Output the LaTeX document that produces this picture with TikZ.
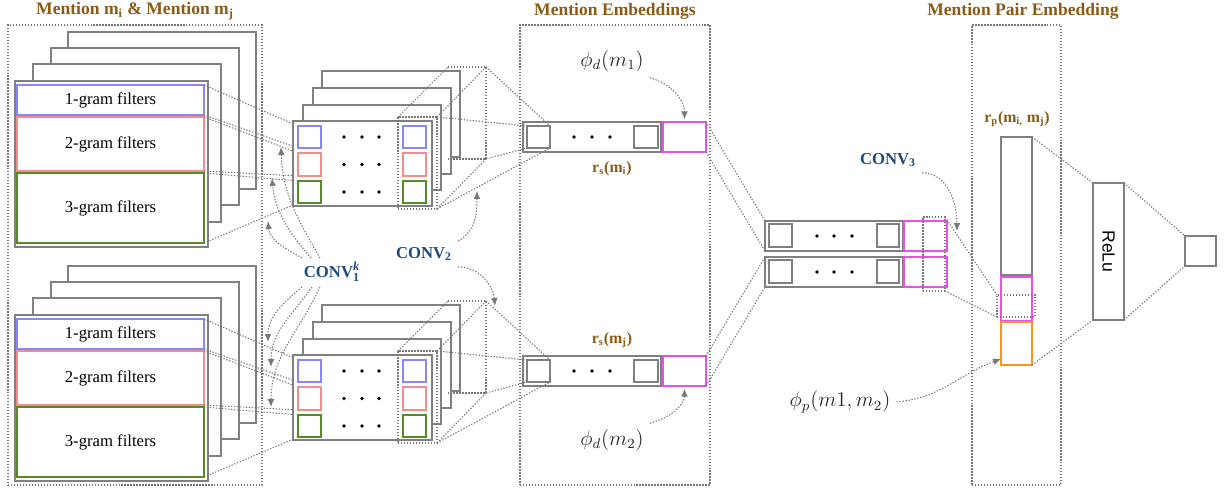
\documentclass[tikz,border=0pt]{standalone}
\usepackage{fontspec}
\setmainfont{Liberation Serif}
\newfontfamily\relufont{Liberation Sans}
\usetikzlibrary{arrows.meta}

\definecolor{edge}{RGB}{128,128,128}
\definecolor{dotc}{RGB}{120,120,120}
\definecolor{fblue}{RGB}{135,135,250}
\definecolor{fred}{RGB}{245,140,140}
\definecolor{fgreen}{RGB}{85,140,35}
\definecolor{fmag}{RGB}{232,80,232}
\definecolor{forange}{RGB}{245,150,35}
\definecolor{ttl}{RGB}{140,90,20}
\definecolor{convc}{RGB}{30,75,125}

\pgfdeclarelayer{back}
\pgfdeclarelayer{mid}
\pgfsetlayers{back,mid,main}

\tikzset{
  px/.style={rectangle, inner sep=0pt, outer sep=0pt, anchor=center},
  sheet/.style={px, draw=edge, line width=0.9pt, fill=white},
  cell/.style={px, draw=edge, line width=0.9pt, fill=white},
  onegram/.style={px, draw=fblue, line width=0.9pt, font=\fontsize{9.5}{11}\selectfont},
  twogram/.style={px, draw=fred, line width=0.9pt, font=\fontsize{9.5}{11}\selectfont},
  threegram/.style={px, draw=fgreen, line width=0.9pt, font=\fontsize{9.5}{11}\selectfont},
  bluecell/.style={px, draw=fblue, line width=0.9pt},
  redcell/.style={px, draw=fred, line width=0.9pt},
  greencell/.style={px, draw=fgreen, line width=0.9pt},
  magcell/.style={px, draw=fmag, line width=0.9pt},
  orangecell/.style={px, draw=forange, line width=0.9pt},
  dotline/.style={draw=dotc, line width=0.6pt, dash pattern=on 0.8pt off 0.9pt},
  dotbox/.style={px, dotline},
  hidden/.style={px},
  curvearrow/.style={dotline, -{Latex[length=4.5pt,width=3.8pt,fill=dotc]}},
  title/.style={text=ttl, font=\fontsize{10}{12}\selectfont\bfseries},
  vlabel/.style={text=ttl, font=\fontsize{9}{11}\selectfont\bfseries},
  convlabel/.style={text=convc, font=\fontsize{9.5}{11}\selectfont\bfseries},
  mathlabel/.style={text=black!85, font=\fontsize{12}{14}\selectfont},
}

% rectangle node given by its corners: name, x1, y1, x2, y2, style, text
\newcommand\pbox[7]{%
  \node[#6, minimum width={(#4-#2)*0.02cm}, minimum height={(#5-#3)*0.02cm}]
    (#1) at ({(#2+#4)/2},{(#3+#5)/2}) {#7};}

% three bullets between the end cells of a row
\newcommand\threedots[3]{%
  \foreach \xx in {#1,#2,#3} \fill (\xx,\rowy) circle[radius=1.1pt];}

% one mention: filter stack, feature maps, convolution volume, embedding vector
\newcommand\mentionblock[2]{%
\begin{scope}[shift={(0,#2)}]
  \begin{pgfonlayer}{back}
    \pbox{#1s4}{68}{32}{256}{189}{sheet}{}
    \pbox{#1s3}{51}{48}{239}{205}{sheet}{}
    \pbox{#1s2}{33}{64}{221}{222}{sheet}{}
    \pbox{#1s1}{15}{81}{208}{247}{sheet}{}
    \pbox{#1g1}{17}{85}{204}{115}{onegram}{1-gram filters}
    \pbox{#1g2}{17}{117}{204}{171}{twogram}{2-gram filters}
    \pbox{#1g3}{17}{173}{204}{243}{threegram}{3-gram filters}
  \end{pgfonlayer}
  % feature maps
  \pbox{#1f4}{322}{71}{460}{157}{sheet}{}
  \pbox{#1f3}{313}{88}{451}{174}{sheet}{}
  \pbox{#1f2}{303}{105}{441}{190}{sheet}{}
  \pbox{#1f1}{293}{121}{432}{206}{sheet}{}
  \pbox{#1q1}{298}{126}{321}{148}{bluecell}{}
  \pbox{#1q2}{298}{153}{321}{176}{redcell}{}
  \pbox{#1q3}{298}{181}{321}{203}{greencell}{}
  \pbox{#1r1}{403}{126}{426}{148}{bluecell}{}
  \pbox{#1r2}{403}{153}{426}{176}{redcell}{}
  \pbox{#1r3}{403}{181}{426}{203}{greencell}{}
  \foreach \rowy in {137,164.5,192} {\threedots{344}{362}{379}}
  % convolution volume over the last column
  \pbox{#1cf}{398}{117}{437}{209}{dotbox}{}
  \pbox{#1cb}{448}{67}{486}{159}{hidden}{}
  \draw[dotline] (#1cb.north west) -- (#1cb.north east) -- (#1cb.south east) -- (#1cb.south west);
  \draw[dotline] (#1cf.north west) -- (#1cb.north west);
  \draw[dotline] (#1cf.north east) -- (#1cb.north east);
  \draw[dotline] (#1cf.south east) -- (#1cb.south east);
  % mention embedding vector
  \pbox{#1v}{523}{122}{661}{152}{cell}{}
  \pbox{#1vl}{527}{126}{550}{148}{cell}{}
  \pbox{#1vr}{634}{126}{658}{148}{cell}{}
  \foreach \rowy in {137} {\threedots{574}{592}{610}}
  \pbox{#1mag}{663}{122}{706}{152}{magcell}{}
  \draw[dotline] (#1cb.north east) -- (#1vl.north east);
  \draw[dotline] (#1cf.north east) -- (#1vl.north west);
  \draw[dotline] (#1cb.south east) -- (#1vl.south west);
  \draw[dotline] (#1cf.south east) -- (#1vl.south east);
  % filters feeding the feature maps
  \begin{pgfonlayer}{mid}
    \draw[dotline] (#1g1.north east) -- (#1q1.north west);
    \draw[dotline] (#1g1.south east) -- (#1q1.south west);
    \draw[dotline] (#1g2.north east) -- (#1q2.north west);
    \draw[dotline] (#1g2.south east) -- (#1q2.south west);
    \draw[dotline] (#1g3.north east) -- (#1q3.north west);
    \draw[dotline] (#1g3.south east) -- (#1q3.south west);
  \end{pgfonlayer}
\end{scope}}

\begin{document}
\begin{tikzpicture}[x=0.02cm, y=-0.02cm]
\useasboundingbox (0,0) rectangle (1225,490);

% section frames and headings
\pbox{frameA}{8}{25}{262}{485}{dotbox}{}
\pbox{frameB}{520}{25}{710}{485}{dotbox}{}
\pbox{frameC}{972}{25}{1061}{485}{dotbox}{}
\node[title] (t1) at (135,11) {Mention m\textsubscript{i} \& Mention m\textsubscript{j}};
\node[title] (t2) at (615,11) {Mention Embeddings};
\node[title] (t3) at (1023,11) {Mention Pair Embedding};

\mentionblock{t}{0}
\mentionblock{b}{234}

\node[vlabel] (rsi) at (612,169) {r\textsubscript{s}(m\textsubscript{i})};
\node[vlabel] (rsj) at (612,340) {r\textsubscript{s}(m\textsubscript{j})};
\node[mathlabel] (phid1) at (612,61) {$\phi_d(m_1)$};
\node[mathlabel] (phid2) at (612,440) {$\phi_d(m_2)$};

% pair of stacked embeddings
\pbox{pt}{765}{221}{903}{251}{cell}{}
\pbox{ptl}{769}{224}{792}{247}{cell}{}
\pbox{ptr}{877}{224}{899}{247}{cell}{}
\pbox{ptm}{904}{221}{947}{251}{magcell}{}
\pbox{pb}{765}{257}{903}{287}{cell}{}
\pbox{pbl}{769}{260}{792}{283}{cell}{}
\pbox{pbr}{877}{260}{899}{283}{cell}{}
\pbox{pbm}{904}{257}{947}{287}{magcell}{}
\foreach \rowy in {236,272} {\threedots{817}{834}{852}}
\pbox{w3}{923}{217}{945}{291}{dotbox}{}

\draw[dotline] (tmag.north east) -- (pt.north west);
\draw[dotline] (tmag.south east) -- (pt.south west);
\draw[dotline] (bmag.north east) -- (pb.north west);
\draw[dotline] (bmag.south east) -- (pb.south west);

% pair embedding, ReLU layer and score
\node[vlabel] (rp) at (1017,119) {r\textsubscript{p}(m\textsubscript{i,} m\textsubscript{j})};
\pbox{rtall}{1001}{137}{1032}{275}{cell}{}
\pbox{rmag}{1001}{277}{1032}{321}{magcell}{}
\pbox{rwin}{997}{295}{1035}{317}{dotbox}{}
\pbox{rorg}{1001}{322}{1032}{365}{orangecell}{}
\pbox{relu}{1093}{183}{1124}{320}{cell}{}
\node[rotate=-90, font=\relufont\fontsize{10}{12}\selectfont] (relutxt) at (relu.center) {ReLu};
\pbox{out}{1185}{236}{1216}{266}{cell}{}

\draw[dotline] (w3.north east) -- (rwin.north west);
\draw[dotline] (w3.south east) -- (rwin.south west);
\draw[dotline] (rtall.north east) -- (relu.north west);
\draw[dotline] (rorg.south east) -- (relu.south west);
\draw[dotline] (relu.north east) -- (out.north west);
\draw[dotline] (relu.south east) -- (out.south west);

% convolution labels and their pointers
\node[convlabel] (conv1) at (332,272) {CONV$^{\mbox{\scriptsize\itshape k}}_{\mbox{\scriptsize 1}}$};
\node[convlabel] (conv2) at (424,254) {CONV\textsubscript{2}};
\node[convlabel] (conv3) at (888,160) {CONV\textsubscript{3}};
\node[mathlabel] (phip) at (840,402) {$\phi_p(m1,m_2)$};

\coordinate (u1s) at (302,258); \coordinate (u1e) at (268,221);
\coordinate (u2s) at (311,258); \coordinate (u2e) at (272,178);
\coordinate (u3s) at (320,258); \coordinate (u3e) at (281,147);
\coordinate (d1s) at (302,287); \coordinate (d1e) at (268,342);
\coordinate (d2s) at (312,287); \coordinate (d2e) at (271,367);
\coordinate (d3s) at (320,287); \coordinate (d3e) at (271,407);
\draw[curvearrow] (u1s) to[out=150,in=-85] (u1e);
\draw[curvearrow] (u2s) to[out=130,in=-85] (u2e);
\draw[curvearrow] (u3s) to[out=120,in=-88] (u3e);
\draw[curvearrow] (d1s) to[out=-140,in=90] (d1e);
\draw[curvearrow] (d2s) to[out=-125,in=90] (d2e);
\draw[curvearrow] (d3s) to[out=-115,in=90] (d3e);

\coordinate (c2up) at (477,191);
\coordinate (c2dn) at (495,306);
\coordinate (c3) at (957,231);
\draw[curvearrow] (conv2.north east) to[out=30,in=-90] (c2up);
\draw[curvearrow] (conv2.south east) to[out=0,in=95] (c2dn);
\draw[curvearrow] (conv3.south east) to[out=0,in=90] (c3);

\draw[curvearrow, shorten >=1.5pt] (phid1.south east) to[out=-15,in=90] (tmag.north);
\draw[curvearrow, shorten >=1.5pt] (phid2.north east) to[out=15,in=-90] (bmag.south);
\draw[curvearrow] (phip.east) to[out=5,in=-160] ([shift={(0,-6)}]rorg.south west);
\end{tikzpicture}
\end{document}
